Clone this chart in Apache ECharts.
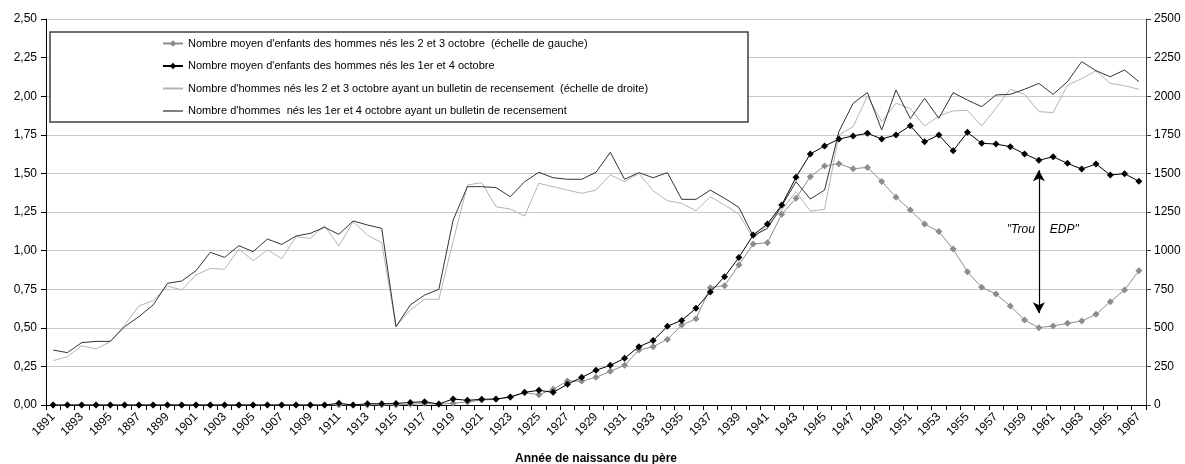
<!DOCTYPE html>
<html>
<head>
<meta charset="utf-8">
<script src="https://cdn.jsdelivr.net/npm/echarts@6/dist/echarts.min.js"></script>
<style>html,body{margin:0;padding:0;background:#fff}#c{width:1185px;height:464px}</style>
</head>
<body>
<div id="c"></div>
<script>
const years = ['1891','1892','1893','1894','1895','1896','1897','1898','1899','1900',
'1901','1902','1903','1904','1905','1906','1907','1908','1909','1910',
'1911','1912','1913','1914','1915','1916','1917','1918','1919','1920',
'1921','1922','1923','1924','1925','1926','1927','1928','1929','1930',
'1931','1932','1933','1934','1935','1936','1937','1938','1939','1940',
'1941','1942','1943','1944','1945','1946','1947','1948','1949','1950',
'1951','1952','1953','1954','1955','1956','1957','1958','1959','1960',
'1961','1962','1963','1964','1965','1966','1967'];

// Nombre moyen d'enfants, nés les 2 et 3 octobre (échelle de gauche)
const enfants23 = [0,0,0,0,0,0,0,0,0,0,
0,0,0,0,0,0,0,0,0,0,
0,0,0,0,0,0.005,0.01,0.005,0.011,0.02,
0.032,0.037,0.05,0.08,0.067,0.102,0.155,0.155,0.179,0.218,
0.257,0.356,0.378,0.425,0.518,0.558,0.76,0.773,0.907,1.043,
1.051,1.235,1.339,1.479,1.548,1.563,1.53,1.539,1.448,1.346,
1.263,1.172,1.123,1.01,0.863,0.762,0.719,0.641,0.55,0.501,
0.512,0.529,0.544,0.587,0.669,0.745,0.87];

// Nombre moyen d'enfants, nés les 1er et 4 octobre
const enfants14 = [0,0,0,0,0,0,0,0,0,0,
0,0,0,0,0,0,0,0,0,0,
0.011,0,0.008,0.008,0.01,0.017,0.021,0.006,0.039,0.03,
0.037,0.039,0.052,0.082,0.095,0.082,0.134,0.179,0.225,0.257,
0.302,0.378,0.417,0.51,0.548,0.626,0.732,0.831,0.955,1.101,
1.172,1.295,1.475,1.626,1.677,1.722,1.743,1.76,1.723,1.749,
1.809,1.705,1.749,1.647,1.766,1.695,1.69,1.673,1.626,1.585,
1.608,1.565,1.528,1.561,1.49,1.498,1.449];

// Nombre d'hommes nés les 2 et 3 octobre avec bulletin (échelle de droite)
const hommes23 = [287,313,384,363,410,518,641,676,771,745,
842,885,879,1010,935,1004,948,1090,1079,1161,
1030,1187,1101,1051,510,615,685,685,1060,1425,
1440,1284,1269,1224,1436,1414,1392,1371,1392,1490,
1446,1500,1388,1323,1306,1258,1349,1295,1237,1079,
1166,1263,1382,1256,1267,1749,1803,2001,1835,1955,
1920,1807,1872,1905,1908,1807,1922,2045,2012,1900,
1894,2071,2114,2165,2083,2068,2045];

// Nombre d'hommes nés les 1er et 4 octobre avec bulletin
const hommes14 = [356,339,404,412,412,507,572,648,788,803,
870,989,956,1032,993,1075,1040,1094,1112,1151,
1105,1192,1166,1144,507,648,712,749,1198,1414,
1414,1408,1349,1446,1507,1472,1462,1462,1507,1637,
1462,1505,1472,1505,1332,1332,1392,1339,1280,1095,
1144,1289,1446,1334,1392,1770,1954,2023,1781,2040,
1855,1986,1857,2023,1975,1932,2008,2012,2045,2083,
2012,2094,2224,2165,2126,2170,2094];

const names = [
  "Nombre moyen d'enfants des hommes nés les 2 et 3 octobre  (échelle de gauche)",
  "Nombre moyen d'enfants des hommes nés les 1er et 4 octobre",
  "Nombre d'hommes nés les 2 et 3 octobre ayant un bulletin de recensement  (échelle de droite)",
  "Nombre d'hommes  nés les 1er et 4 octobre ayant un bulletin de recensement"
];
const annotationYear = '1960';
const arrowTop = 1.52, arrowBottom = 0.595, annotationLevel = 1.133;

const FONT = "'Liberation Sans', Arial, sans-serif";
const chart = echarts.init(document.getElementById('c'), null, {renderer: 'canvas'});
chart.setOption({
  animation: false,
  backgroundColor: '#fff',
  textStyle: {fontFamily: FONT},
  grid: {left: 46, right: 39, top: 19, bottom: 59, containLabel: false, outerBoundsMode: 'none'},
  graphic: [{
    type: 'rect', z: 3,
    shape: {x: 50, y: 32, width: 698, height: 90},
    style: {fill: '#fff', stroke: '#404040', lineWidth: 1.5}
  }],
  legend: {
    orient: 'vertical', left: 157, top: 33, itemGap: 11.5, itemWidth: 20, itemHeight: 8, z: 5,
    textStyle: {fontSize: 11, color: '#000', fontFamily: FONT},
    data: [
      {name: names[0]}, {name: names[1]},
      {name: names[2], itemStyle: {opacity: 0}},
      {name: names[3], itemStyle: {opacity: 0}, lineStyle: {color: '#808080', width: 2}}
    ]
  },
  xAxis: {
    type: 'category', data: years, boundaryGap: true,
    name: 'Année de naissance du père', nameLocation: 'middle', nameGap: 48,
    nameTextStyle: {fontSize: 12, fontWeight: 'bold', color: '#000', fontFamily: FONT},
    axisLine: {lineStyle: {color: '#000', width: 1}},
    axisTick: {show: true, interval: 0, length: 5, lineStyle: {color: '#000'}},
    axisLabel: {interval: 1, rotate: 45, fontSize: 12, color: '#000', margin: 10, fontFamily: FONT},
    splitLine: {show: false}
  },
  yAxis: [{
    type: 'value', min: 0, max: 2.5, interval: 0.25, position: 'left',
    axisLine: {show: true, lineStyle: {color: '#000', width: 1}},
    axisTick: {show: true, length: 5, lineStyle: {color: '#000'}},
    axisLabel: {fontSize: 12, color: '#000', margin: 9, fontFamily: FONT,
      formatter: v => v.toFixed(2).replace('.', ',')},
    splitLine: {show: true, lineStyle: {color: '#c8c8c8', width: 1}}
  }, {
    type: 'value', min: 0, max: 2500, interval: 250, position: 'right',
    axisLine: {show: true, lineStyle: {color: '#404040', width: 1}},
    axisTick: {show: true, length: 5, lineStyle: {color: '#404040'}},
    axisLabel: {fontSize: 12, color: '#000', margin: 8, fontFamily: FONT,
      formatter: v => String(v)},
    splitLine: {show: false}
  }],
  series: [{
    name: names[0], type: 'line', yAxisIndex: 0, data: enfants23, z: 3,
    symbol: 'diamond', symbolSize: 7, showSymbol: true,
    lineStyle: {color: '#8c8c8c', width: 1}, itemStyle: {color: '#8c8c8c'},
    markLine: {
      silent: true, symbol: ['arrow', 'arrow'], symbolSize: [9, 11],
      lineStyle: {color: '#000', width: 1.2, type: 'solid'}, label: {show: false},
      data: [[{coord: [annotationYear, arrowTop]}, {coord: [annotationYear, arrowBottom]}]]
    },
    markPoint: {
      silent: true, symbolSize: 0,
      label: {show: true, fontSize: 12, fontStyle: 'italic', color: '#000', fontFamily: FONT},
      data: [
        {coord: [annotationYear, annotationLevel], value: '"Trou', label: {position: 'left', distance: 4, formatter: '"Trou'}},
        {coord: [annotationYear, annotationLevel], value: 'EDP"', label: {position: 'right', distance: 11, formatter: 'EDP"'}}
      ]
    }
  }, {
    name: names[1], type: 'line', yAxisIndex: 0, data: enfants14, z: 4,
    symbol: 'diamond', symbolSize: 7, showSymbol: true,
    lineStyle: {color: '#000', width: 1}, itemStyle: {color: '#000'}
  }, {
    name: names[2], type: 'line', yAxisIndex: 1, data: hommes23, z: 2,
    symbol: 'none', showSymbol: false,
    lineStyle: {color: '#b4b4b4', width: 1}, itemStyle: {color: '#b4b4b4'}
  }, {
    name: names[3], type: 'line', yAxisIndex: 1, data: hommes14, z: 2,
    symbol: 'none', showSymbol: false,
    lineStyle: {color: '#333', width: 1}, itemStyle: {color: '#333'}
  }]
});
</script>
</body>
</html>
